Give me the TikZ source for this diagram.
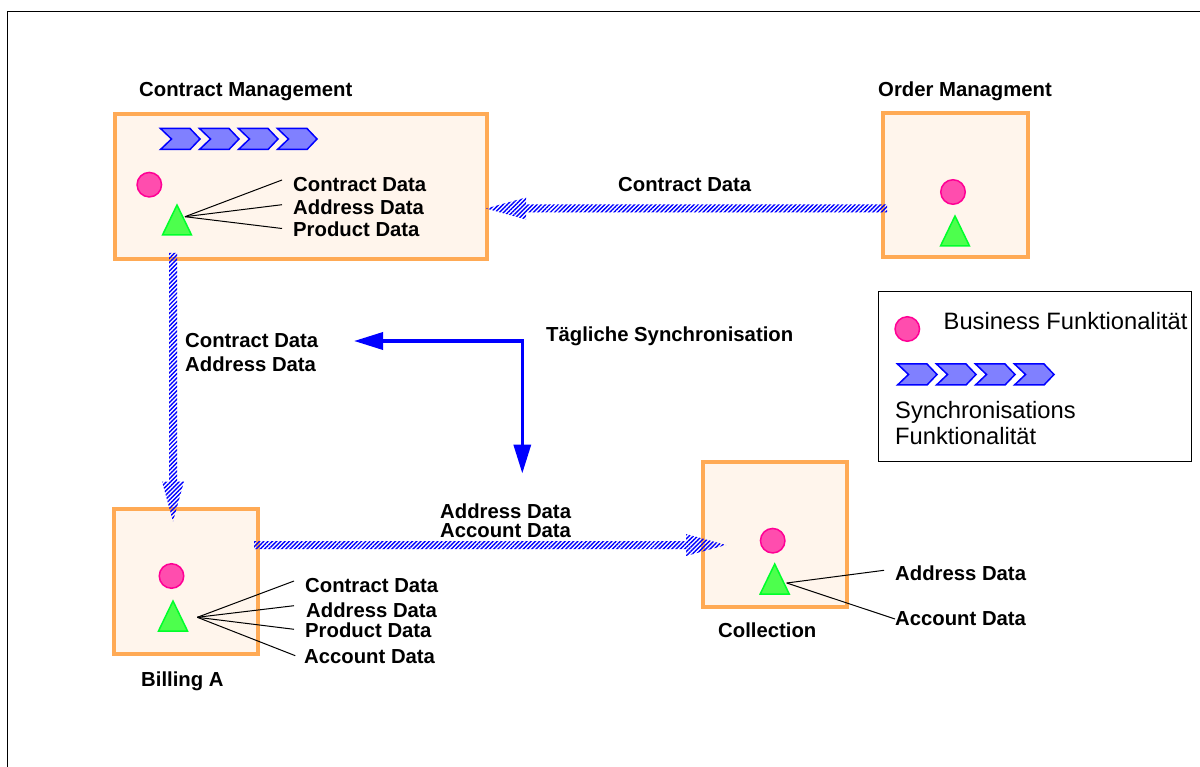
\documentclass[tikz,border=0pt]{standalone}
\usepackage{fontspec}
\setmainfont{Liberation Sans}
\usetikzlibrary{arrows.meta,calc,patterns.meta,shapes.geometric}

\definecolor{boxline}{HTML}{FFAA55} % orange
\definecolor{boxfill}{HTML}{FFF5EC} % light cream
\definecolor{bizfill}{HTML}{FF4DAE} % pink
\definecolor{bizline}{HTML}{FF0095}
\definecolor{dbfill}{HTML}{4DFF4D} % green
\definecolor{dbline}{HTML}{00FF2B}
\definecolor{syncfill}{HTML}{8080FF} % light blue

\tikzstyle{system}=[rectangle,draw=boxline,fill=boxfill,line width=4pt,outer sep=0pt,anchor=north west]
\tikzstyle{biz}=[circle,draw=bizline,fill=bizfill,line width=1.5pt,minimum size=24.5pt,inner sep=0pt]
\tikzstyle{db}=[isosceles triangle,isosceles triangle stretches,shape border rotate=90,
	draw=dbline,fill=dbfill,line width=1.5pt,minimum width=29pt,minimum height=30pt,
	inner sep=0pt,outer sep=0pt,anchor=apex]
\tikzstyle{lbl}=[anchor=west,inner sep=0pt,text height=14.4pt,text depth=0pt,
	font=\fontsize{20.3}{20.3}\selectfont\bfseries]
\tikzstyle{txt}=[anchor=west,inner sep=0pt,text height=17pt,text depth=0pt,
	font=\fontsize{23.7}{23.7}\selectfont]
\tikzstyle{feed}=[line width=1pt]
\tikzstyle{flow}=[pattern={Lines[angle=45,distance=3pt,line width=1.4pt]},
	pattern color=blue,draw=none,
	to path={ ($(\tikztostart)!4pt!90:(\tikztotarget)$)
		-- ($(\tikztotarget)!40pt!(\tikztostart)!4pt!90:(\tikztotarget)$)
		-- ($(\tikztotarget)!40pt!(\tikztostart)!11pt!90:(\tikztotarget)$)
		-- (\tikztotarget)
		-- ($(\tikztotarget)!40pt!(\tikztostart)!11pt!-90:(\tikztotarget)$)
		-- ($(\tikztotarget)!40pt!(\tikztostart)!4pt!-90:(\tikztotarget)$)
		-- ($(\tikztostart)!4pt!-90:(\tikztotarget)$) -- cycle }]
\tikzstyle{daily}=[{Triangle[length=29pt,width=17pt]}-{Triangle[length=29pt,width=17pt]},draw=blue,line width=3.5pt]

\tikzset{chevrons/.pic={
	\foreach \i in {0,1,2,3}
		\draw [draw=blue,fill=syncfill,line width=1.5pt,xshift=\i*39pt]
			(0.5,0) -- (30,0) -- (40,10.5) -- (30,21) -- (0.5,21) -- (11.5,10.5) -- cycle;
}}

\begin{document}
\begin{tikzpicture}[x=1pt,y=-1pt,>=stealth]

  \useasboundingbox (0,0) rectangle (1200,767);

  \draw [line width=1.2pt] (1200,11.5) -- (7.5,11.5) -- (7.5,767);

  %% systems
  \node (cm)   at (115,114)   [system,minimum width=372pt,minimum height=145pt] {};
  \node (om)   at (883,113)   [system,minimum width=145pt,minimum height=144pt] {};
  \node (ba)   at (114,509)   [system,minimum width=144pt,minimum height=145pt] {};
  \node (co)   at (703,462)   [system,minimum width=144pt,minimum height=145pt] {};

  \pic at (160,128.5) {chevrons};

  \node (cmb)  at (149.3,184.7) [biz] {};
  \node (cmd)  at (177,205)   [db] {};
  \node (omb)  at (953,192)   [biz] {};
  \node (omd)  at (955,216)   [db] {};
  \node (bab)  at (171.5,576) [biz] {};
  \node (bad)  at (173,601)   [db] {};
  \node (cob)  at (772.7,540.7) [biz] {};
  \node (cod)  at (774.7,564) [db] {};

  %% labels
  \node (cmt)  at (139,89)  [lbl] {Contract Management};
  \node (omt)  at (878,89)  [lbl] {Order Managment};
  \node (bat)  at (141,679) [lbl] {Billing A};
  \node (cot)  at (718,630) [lbl] {Collection};

  \node (cm1)  at (293,184) [lbl] {Contract Data};
  \node (cm2)  at (293,207) [lbl] {Address Data};
  \node (cm3)  at (293,229) [lbl] {Product Data};
  \node (ba1)  at (305,585) [lbl] {Contract Data};
  \node (ba2)  at (306,610) [lbl] {Address Data};
  \node (ba3)  at (305,630) [lbl] {Product Data};
  \node (ba4)  at (304,656) [lbl] {Account Data};
  \node (co1)  at (895,573) [lbl] {Address Data};
  \node (co2)  at (895,618) [lbl] {Account Data};

  \node (f1)   at (618,184) [lbl] {Contract Data};
  \node (f2a)  at (185,340) [lbl] {Contract Data};
  \node (f2b)  at (185,364) [lbl] {Address Data};
  \node (f3a)  at (440,511) [lbl] {Address Data};
  \node (f3b)  at (440,530) [lbl] {Account Data};
  \node (dly)  at (546,334) [lbl] {Tägliche Synchronisation};

  %% legend
  \node (lgd)  at (878,292) [rectangle,draw,line width=1pt,outer sep=0pt,anchor=north west,
                             minimum width=313.5pt,minimum height=169pt] {};
  \node (lgb)  at (907.3,329) [biz] {};
  \node (lgt)  at (943.5,321) [txt] {Business Funktionalität};
  \pic at (897,364) {chevrons};
  \node (lg1)  at (895,410) [txt] {Synchronisations};
  \node (lg2)  at (895,436) [txt] {Funktionalität};

  %% ends of the connectors
  \node (f1s)  at (887,208.5) [coordinate] {};
  \node (f1e)  at (486,208.5) [coordinate] {};
  \node (f2s)  at (173,253)   [coordinate] {};
  \node (f2e)  at (173,521.5) [coordinate] {};
  \node (f3s)  at (254,545)   [coordinate] {};
  \node (f3e)  at (726,545)   [coordinate] {};
  \node (dl)   at (354,341)   [coordinate] {};
  \node (de)   at (522.3,473.5) [coordinate] {};

  \node (cmo)  at (185,216.7) [coordinate] {};
  \node (cme1) at (282,180)   [coordinate] {};
  \node (cme2) at (282,204.7) [coordinate] {};
  \node (cme3) at (282,228.5) [coordinate] {};
  \node (bao)  at (197.3,617.3) [coordinate] {};
  \node (bae1) at (294,581)   [coordinate] {};
  \node (bae2) at (294,605.7) [coordinate] {};
  \node (bae3) at (294,629.3) [coordinate] {};
  \node (bae4) at (295.3,655.7) [coordinate] {};
  \node (coo)  at (786.7,583) [coordinate] {};
  \node (coe1) at (884,570.3) [coordinate] {};
  \node (coe2) at (895,619)   [coordinate] {};

  \path (f1s) edge [flow] (f1e)
        (f2s) edge [flow] (f2e)
        (f3s) edge [flow] (f3e);

  \draw [daily] (dl) -| (de);

  \path (cmo) edge [feed] (cme1)
              edge [feed] (cme2)
              edge [feed] (cme3)
        (bao) edge [feed] (bae1)
              edge [feed] (bae2)
              edge [feed] (bae3)
              edge [feed] (bae4)
        (coo) edge [feed] (coe1)
              edge [feed] (coe2);

\end{tikzpicture}
\end{document}
